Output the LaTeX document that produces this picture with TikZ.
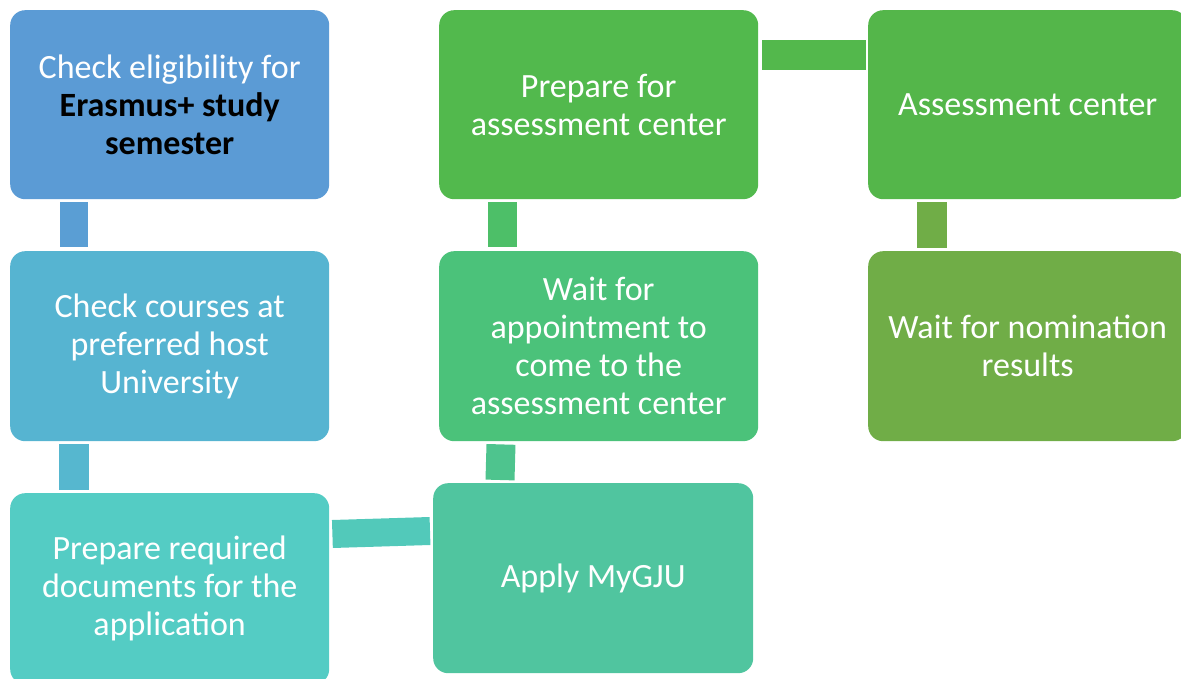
\documentclass[tikz,border=0pt]{standalone}
\usepackage{fontspec}
\setmainfont{Carlito}
\definecolor{cA}{HTML}{5B9BD5}
\definecolor{cB}{HTML}{56B4D1}
\definecolor{cC}{HTML}{54CCC4}
\definecolor{cD}{HTML}{50C59F}
\definecolor{cE}{HTML}{4BC27A}
\definecolor{cF}{HTML}{52B94D}
\definecolor{cG}{HTML}{54B64A}
\definecolor{cH}{HTML}{70AD47}
\definecolor{kAB}{HTML}{5A9ED4}
\definecolor{kBC}{HTML}{56B7CF}
\definecolor{kCD}{HTML}{52C9BA}
\definecolor{kDE}{HTML}{4EC48E}
\definecolor{kEF}{HTML}{4DBF68}
\definecolor{kFG}{HTML}{53B84C}
\definecolor{kGH}{HTML}{70AD47}
\tikzset{
  stepbox/.style={rectangle, rounded corners=15pt, minimum width=319pt, inner sep=0pt,
    text=white, align=center, font=\fontsize{34}{38}\selectfont, anchor=north west},
  conn/.style={line width=#1}
}
\begin{document}
\begin{tikzpicture}[x=1pt,y=-1pt]
\useasboundingbox (0,0) rectangle (1181,679);
\clip (0,0) rectangle (1181,679);
\node[stepbox, fill=cA, minimum height=189pt] (b1) at (10,10)
  {Check eligibility for\\\textcolor{black}{\bfseries Erasmus+ study}\\\textcolor{black}{\bfseries semester}};
\node[stepbox, fill=cB, minimum height=190pt] (b2) at (10,251)
  {Check courses at\\preferred host\\University};
\node[stepbox, fill=cC, minimum height=191pt] (b3) at (10,493)
  {Prepare required\\documents for the\\application};
\node[stepbox, fill=cD, minimum height=190pt, minimum width=320pt] (b4) at (433,483)
  {Apply MyGJU};
\node[stepbox, fill=cE, minimum height=190pt] (b5) at (439,251)
  {Wait for\\appointment to\\come to the\\assessment center};
\node[stepbox, fill=cF, minimum height=189pt] (b6) at (439,10)
  {Prepare for\\assessment center};
\node[stepbox, fill=cG, minimum height=189pt] (b7) at (868,10)
  {Assessment center};
\node[stepbox, fill=cH, minimum height=190pt] (b8) at (868,251)
  {Wait for nomination\\results};
\draw[conn=28pt, kAB] ([xshift=64pt,yshift=-3pt]b1.south west) -- ([xshift=64pt,yshift=4pt]b2.north west);
\draw[conn=30pt, kBC] ([xshift=64pt,yshift=-3pt]b2.south west) -- ([xshift=64pt,yshift=3pt]b3.north west);
\draw[conn=28pt, kCD] ([xshift=3pt,yshift=-41pt]b3.north east) -- ([xshift=-3pt,yshift=-48pt]b4.north west);
\draw[conn=29pt, kDE] ([xshift=67pt,yshift=3pt]b4.north west) -- ([xshift=62pt,yshift=-3pt]b5.south west);
\draw[conn=29pt, kEF] ([xshift=63.5pt,yshift=4pt]b5.north west) -- ([xshift=63.5pt,yshift=-3pt]b6.south west);
\draw[conn=30pt, kFG] ([xshift=4pt,yshift=-45pt]b6.north east) -- ([xshift=-2pt,yshift=-45pt]b7.north west);
\draw[conn=30pt, kGH] ([xshift=64pt,yshift=-3pt]b7.south west) -- ([xshift=64pt,yshift=3pt]b8.north west);
\end{tikzpicture}
\end{document}
